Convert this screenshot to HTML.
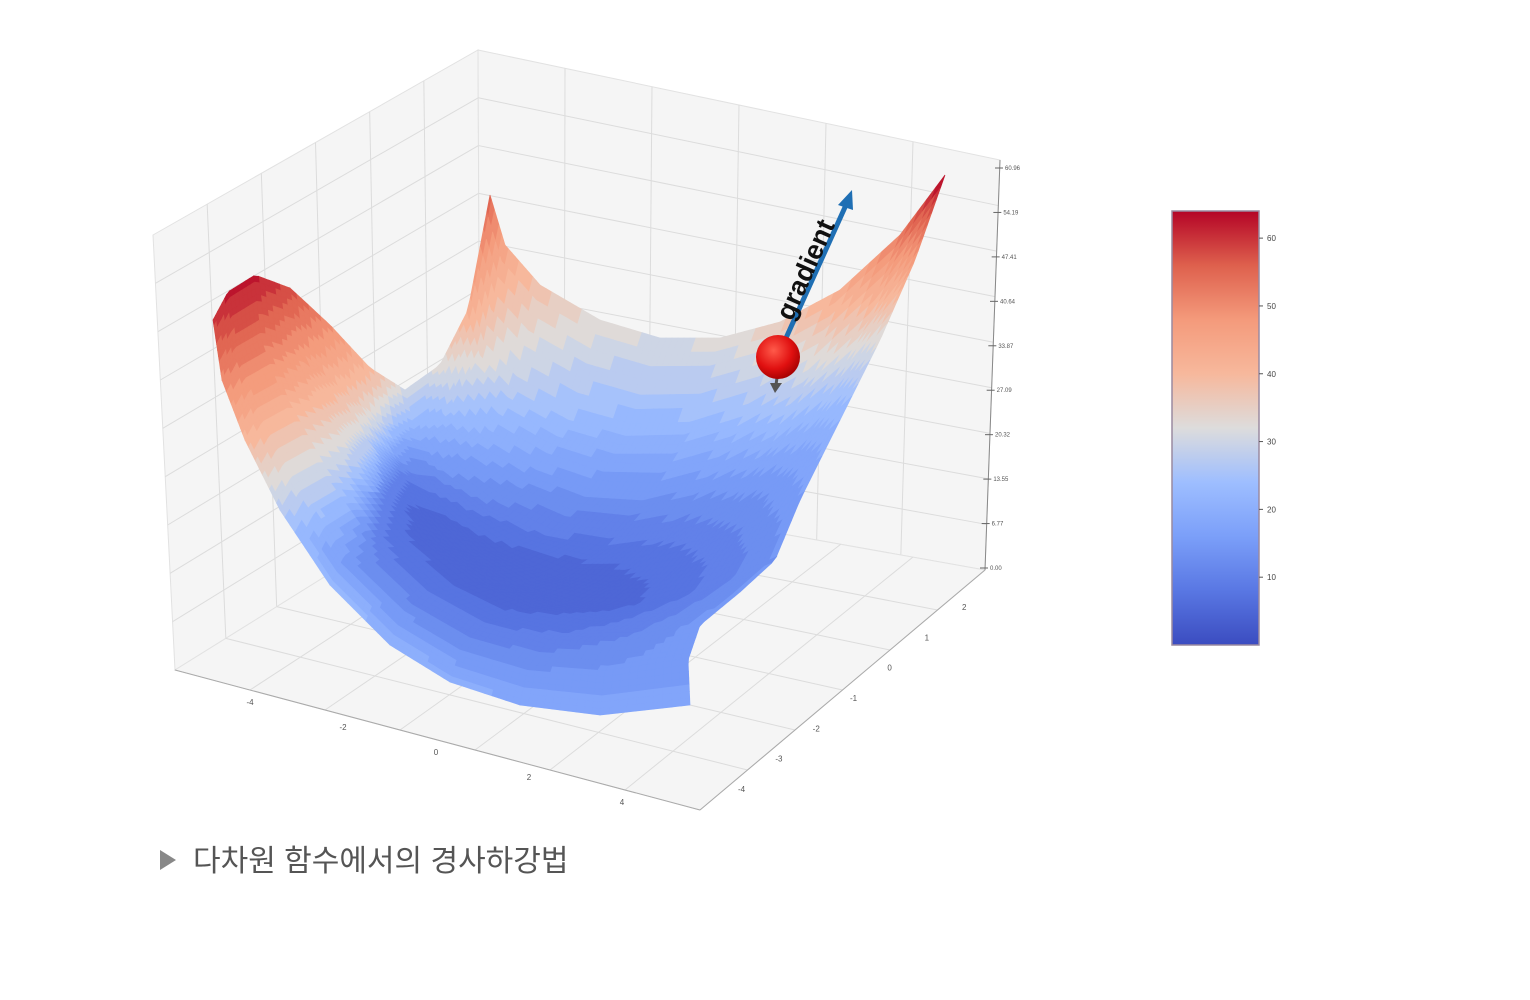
<!DOCTYPE html>
<html><head><meta charset="utf-8">
<style>
html,body{margin:0;padding:0;background:#fff;}
svg{display:block;}
.cap{font-family:"Liberation Sans","Noto Sans CJK KR",sans-serif;}
</style></head>
<body>
<svg id="chart" width="1530" height="1000" viewBox="0 0 1530 1000">
  <defs>
    <radialGradient id="ballGrad" cx="0.4" cy="0.35" r="0.7">
      <stop offset="0" stop-color="#ff5a4a"/>
      <stop offset="0.6" stop-color="#e01010"/>
      <stop offset="1" stop-color="#a00000"/>
    </radialGradient>
    <linearGradient id="cbGrad" x1="0" y1="1" x2="0" y2="0">
      <stop offset="0" stop-color="#3b4cc0"/>
      <stop offset="0.125" stop-color="#5977e3"/>
      <stop offset="0.25" stop-color="#7b9ff9"/>
      <stop offset="0.375" stop-color="#9ebeff"/>
      <stop offset="0.5" stop-color="#dddcdc"/>
      <stop offset="0.625" stop-color="#f7b89c"/>
      <stop offset="0.75" stop-color="#f49a7b"/>
      <stop offset="0.875" stop-color="#de604d"/>
      <stop offset="1" stop-color="#b40426"/>
    </linearGradient>
  </defs>
  <g id="panes"></g>
  <g id="surface"></g>
  <g id="ticks"></g>
  <g id="overlay">
    <line x1="786" y1="338" x2="846" y2="205" stroke="#1f6fb4" stroke-width="5"/>
    <polygon points="852,190 838,205 853,210" fill="#1f6fb4"/>
    <text x="0" y="0" transform="translate(792,322) rotate(-66)" font-family="Liberation Sans, sans-serif" font-weight="bold" font-size="27" fill="#111">gradient</text>
    <line x1="778" y1="370" x2="776" y2="385" stroke="#555" stroke-width="3"/>
    <polygon points="770,383 782,383 775,393" fill="#555"/>
    <circle cx="778" cy="357" r="22" fill="url(#ballGrad)"/>
  </g>
  <g id="colorbar">
    <rect x="1172" y="211" width="87" height="434" fill="url(#cbGrad)" stroke="#9a8aa0" stroke-width="1.5"/>
  </g>
  <g>
    <polygon points="160,850 160,870 176,860" fill="#888"/>
    <text x="193" y="871" class="cap" font-size="30" fill="#555">다차원 함수에서의 경사하강법</text>
  </g>
</svg>
<script>
// ---- data ----
const colorbarTicks = [10, 20, 30, 40, 50, 60];
const zTickLabels = ["0.00","6.77","13.55","20.32","27.09","33.87","40.64","47.41","54.19","60.96"];
const xTickLabels = [-4, -2, 0, 2, 4];
const yTickLabels = [2, 1, 0, -1, -2, -3, -4];
// surface heights along the trough (s = 0, 0.5, 1)
const frontHeights = [30, 22, 17];
const backHeights = [56, 32, 65];
const valleyHeights = [20, 4, 14];
const lobePeak = 62;
const zMin = 0, zMax = 64;

const NS = "http://www.w3.org/2000/svg";
function el(tag, attrs, parent){const e=document.createElementNS(NS,tag);for(const k in attrs)e.setAttribute(k,attrs[k]);parent.appendChild(e);return e;}

const cmap=[[0,59,76,192],[0.125,89,119,227],[0.25,123,159,249],[0.375,158,190,255],[0.5,221,220,220],[0.625,247,184,156],[0.75,244,154,123],[0.875,222,96,77],[1,180,4,38]];
function color(v){let f=(v-zMin)/(zMax-zMin);f=Math.max(0,Math.min(1,f));
  for(let i=1;i<cmap.length;i++){if(f<=cmap[i][0]){const a=cmap[i-1],b=cmap[i],u=(f-a[0])/(b[0]-a[0]);
    return `rgb(${Math.round(a[1]+u*(b[1]-a[1]))},${Math.round(a[2]+u*(b[2]-a[2]))},${Math.round(a[3]+u*(b[3]-a[3]))})`;}}
  return "rgb(180,4,38)";}

// ---- panes ----
const panes=document.getElementById('panes');
function bil(q,u,v){
  const x=(1-u)*(1-v)*q[0][0]+u*(1-v)*q[1][0]+u*v*q[2][0]+(1-u)*v*q[3][0];
  const y=(1-u)*(1-v)*q[0][1]+u*(1-v)*q[1][1]+u*v*q[2][1]+(1-u)*v*q[3][1];return [x,y];}
function pane(q,nu,nv,name){
  const p=el('polygon',{points:q.map(p=>p.join(',')).join(' '),fill:'#f5f5f5',stroke:'#e2e2e2','stroke-width':1},panes);
  
  
  for(let i=1;i<nu;i++){const a=bil(q,i/nu,0),b=bil(q,i/nu,1);
    const l=el('line',{x1:a[0],y1:a[1],x2:b[0],y2:b[1],stroke:'#dcdcdc','stroke-width':1},panes);
    
    }
  for(let j=1;j<nv;j++){const a=bil(q,0,j/nv),b=bil(q,1,j/nv);
    const l=el('line',{x1:a[0],y1:a[1],x2:b[0],y2:b[1],stroke:'#dcdcdc','stroke-width':1},panes);
    
    }
}
pane([[153,235],[478,50],[480,480],[175,670]],6,9,'left-wall');
pane([[478,50],[1000,160],[985,570],[480,480]],6,9,'right-wall');
pane([[480,480],[985,570],[700,810],[175,670]],7,6,'floor');

// ---- surface (Coons patch) ----
const C0=[[213,320],[222,380],[245,440],[280,510],[330,585],[390,645],[450,682],[520,705],[600,715],[690,705]];
const C1=[[490,195],[505,245],[540,285],[600,320],[660,338],[720,338],[780,322],[840,290],[900,235],[945,175]];
const D0=[[213,320],[228,292],[255,275],[290,288],[330,325],[370,368],[405,390],[440,365],[468,310],[490,195]];
const D1=[[690,705],[688,660],[700,625],[740,592],[775,560],[800,500],[840,420],[880,340],[915,260],[945,175]];
function pl(P,u){const n=P.length-1,f=u*n,i=Math.min(n-1,Math.floor(f)),r=f-i;return [P[i][0]+r*(P[i+1][0]-P[i][0]),P[i][1]+r*(P[i+1][1]-P[i][1])];}
function coons(s,t){const a=pl(C0,s),b=pl(C1,s),c=pl(D0,t),d=pl(D1,t);
  const P00=C0[0],P10=C0[C0.length-1],P01=C1[0],P11=C1[C1.length-1];
  const r=[];for(let k=0;k<2;k++){r[k]=(1-t)*a[k]+t*b[k]+(1-s)*c[k]+s*d[k]-((1-s)*(1-t)*P00[k]+s*(1-t)*P10[k]+(1-s)*t*P01[k]+s*t*P11[k]);}return r;}
function q3(arr,s){const a=arr[0],b=arr[1],c=arr[2];return a*(1-s)*(1-2*s)+4*b*s*(1-s)+c*s*(2*s-1);}
function height(s,t,px,py){const F=q3(frontHeights,s),B=q3(backHeights,s),M=q3(valleyHeights,s),t0=0.45;
  let z;
  if(t<t0){const u=(t0-t)/t0;z=M+(F-M)*u*u;} else {const u=(t-t0)/(1-t0);z=M+(B-M)*u*u;}
  // left lobe (finger) descending from the top-left
  const d=(px-235)*0.5+(py-290)*0.87;
  const lobeZ=lobePeak-0.16*Math.max(0,d);
  const dist=(px-410)*0.95+(py-390)*0.3;
  const w=1/(1+Math.exp(dist/12));
  return z+w*Math.max(0,lobeZ-z);}
const surf=document.getElementById('surface');
const NSx=90,NTy=60;
for(let j=NTy-1;j>=0;j--){for(let i=0;i<NSx;i++){
  const s0=i/NSx,s1=(i+1)/NSx,t0=j/NTy,t1=(j+1)/NTy;
  const p=[coons(s0,t0),coons(s1,t0),coons(s1,t1),coons(s0,t1)];
  const cx=(p[0][0]+p[1][0]+p[2][0]+p[3][0])/4,cy=(p[0][1]+p[1][1]+p[2][1]+p[3][1])/4;
  let z=height((s0+s1)/2,(t0+t1)/2,cx,cy);z=Math.round(z/2.5)*2.5;
  const c=color(z);
  const poly=el('polygon',{points:p.map(q=>q[0].toFixed(1)+','+q[1].toFixed(1)).join(' '),fill:c,stroke:c,'stroke-width':0.7},surf);
  
  
}}

// ---- ticks ----
const tk=document.getElementById('ticks');
el('line',{x1:1000,y1:160,x2:985,y2:570,stroke:'#888','stroke-width':1},tk);
zTickLabels.forEach((lab,i)=>{const f=i/(zTickLabels.length-1);const x=985+f*15,y=568-f*400;
  el('line',{x1:x-5,y1:y,x2:x+3,y2:y,stroke:'#666','stroke-width':1},tk);
  const t=el('text',{x:x+5,y:y+2,'font-size':6,'font-family':'Liberation Sans, sans-serif',fill:'#555'},tk);
  t.textContent=lab;
  
  });
el('line',{x1:175,y1:670,x2:700,y2:810,stroke:'#aaa','stroke-width':1},tk);
xTickLabels.forEach(v=>{const f=(v+4)/8;const x=250+f*372,y=705+f*100;
  const t=el('text',{x:x,y:y,'font-size':8,'font-family':'Liberation Sans, sans-serif',fill:'#555','text-anchor':'middle'},tk);
  t.textContent=v;
  
  });
el('line',{x1:700,y1:810,x2:985,y2:570,stroke:'#aaa','stroke-width':1},tk);
yTickLabels.forEach(v=>{const f=(2-v)/6;const x=962-f*224,y=610+f*182;
  const t=el('text',{x:x,y:y,'font-size':8,'font-family':'Liberation Sans, sans-serif',fill:'#555'},tk);
  t.textContent=v;
  
  });

const cb=document.getElementById('colorbar');
colorbarTicks.forEach(v=>{const y=211+(zMax-v)/(zMax-zMin)*434;
  el('line',{x1:1259,y1:y,x2:1263,y2:y,stroke:'#555','stroke-width':1},cb);
  const t=el('text',{x:1267,y:y+3,'font-size':8,'font-family':'Liberation Sans, sans-serif',fill:'#444'},cb);
  t.textContent=v;
  
  });
</script>
</body></html>
